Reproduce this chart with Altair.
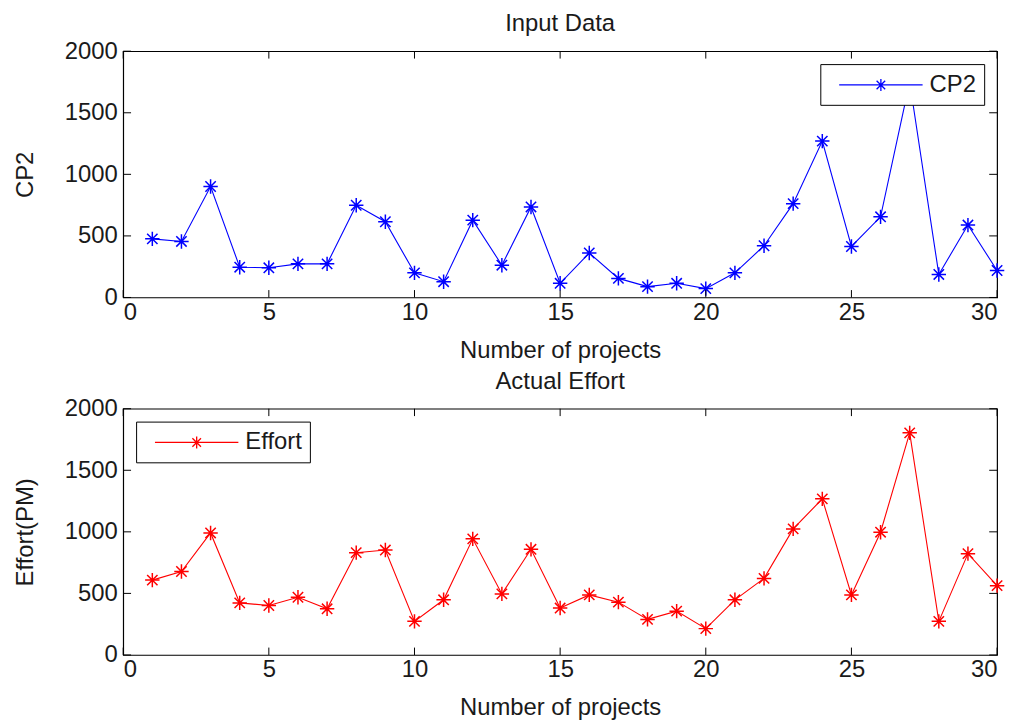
import altair as alt
import pandas as pd

projects = list(range(1, 31))
cp2 = [476, 455, 901, 246, 241, 273, 273, 749, 615, 200,
       128, 628, 262, 735, 115, 361, 155, 88, 115, 72,
       200, 420, 762, 1270, 414, 655, 1750, 187, 588, 219]
effort = [608, 678, 991, 423, 402, 469, 375, 831, 852, 273,
          448, 943, 496, 858, 381, 488, 429, 289, 356, 214,
          448, 622, 1024, 1268, 488, 997, 1804, 273, 823, 563]
x_ticks = [0, 5, 10, 15, 20, 25, 30]
y_ticks = [0, 500, 1000, 1500, 2000]

FONT = "Liberation Sans"
TXT = "#1a1a1a"
FS = 24
ASTERISK = "M-1,0L1,0M0,-1L0,1M-0.72,-0.72L0.72,0.72M-0.72,0.72L0.72,-0.72"
LEG_SYM = ("M-3.5,0L3.5,0M0,-0.5L0,0.5M-0.36,-0.36L0.36,0.36"
           "M-0.36,0.36L0.36,-0.36")

# inward tick marks (MATLAB box style): bottom/top and left/right
xt = pd.DataFrame({"t": x_ticks * 2,
                   "a": [0] * 7 + [2000] * 7,
                   "b": [60] * 7 + [1940] * 7})
yt = pd.DataFrame({"t": y_ticks * 2,
                   "a": [0] * 5 + [30] * 5,
                   "b": [0.27] * 5 + [29.73] * 5})

xs = alt.Scale(domain=[0, 30], nice=False, zero=False)
ys = alt.Scale(domain=[0, 2000], nice=False)


def panel(values, name, color, title, ytitle, orient):
    df = pd.DataFrame({"project": projects, "value": values, "series": name})
    cscale = alt.Scale(domain=[name], range=[color])
    xaxis = alt.Axis(values=x_ticks, title="Number of projects", ticks=False,
                     labelPadding=3, titlePadding=14, domain=False,
                     grid=False, labelFontSize=FS, titleFontSize=FS,
                     labelFont=FONT, titleFont=FONT, labelColor=TXT,
                     titleColor=TXT, titleFontWeight="normal")
    yaxis = alt.Axis(values=y_ticks, title=ytitle, ticks=False, format="d",
                     labelPadding=6, titlePadding=27, domain=False,
                     grid=False, labelFontSize=FS, titleFontSize=FS,
                     labelFont=FONT, titleFont=FONT, labelColor=TXT,
                     titleColor=TXT, titleFontWeight="normal")
    legend = alt.Legend(title=None, orient=orient, offset=13,
                        symbolType=LEG_SYM, symbolSize=576,
                        symbolStrokeWidth=1.3, symbolFillColor="transparent",
                        symbolOffset=40, labelOffset=36,
                        labelFontSize=FS, labelFont=FONT, labelColor=TXT,
                        padding=8, strokeColor="black", fillColor="white",
                        cornerRadius=0)
    line = alt.Chart(df).mark_line(strokeWidth=1.1).encode(
        x=alt.X("project:Q", scale=xs, axis=xaxis),
        y=alt.Y("value:Q", scale=ys, axis=yaxis),
        color=alt.Color("series:N", scale=cscale, legend=legend),
    )
    pts = alt.Chart(df).mark_point(shape=ASTERISK, filled=False, size=210,
                                   strokeWidth=1.5, opacity=1).encode(
        x=alt.X("project:Q"),
        y=alt.Y("value:Q"),
        color=alt.Color("series:N"),
    )
    xr = alt.Chart(xt).mark_rule(color="black", strokeWidth=1).encode(
        x=alt.X("t:Q"), y=alt.Y("a:Q"), y2="b:Q")
    yr = alt.Chart(yt).mark_rule(color="black", strokeWidth=1).encode(
        y=alt.Y("t:Q"), x=alt.X("a:Q"), x2="b:Q")
    return alt.layer(line, pts, xr, yr).properties(
        width=880, height=248,
        title=alt.TitleParams(title, fontSize=FS, font=FONT,
                              fontWeight="normal", color=TXT, offset=3,
                              anchor="middle"),
    )


top = panel(cp2, "CP2", "#0000ff", "Input Data", "CP2", "top-right")
bottom = panel(effort, "Effort", "#ff0000", "Actual Effort", "Effort(PM)",
               "top-left")

chart = alt.vconcat(top, bottom, spacing=6).resolve_scale(
    color="independent").properties(
    padding={"left": 5, "top": 1, "right": 0, "bottom": 0}
).configure(background="white").configure_view(
    stroke="black", strokeWidth=1.2)

chart.save("out.html", embed_options={"renderer": "svg", "actions": False})
